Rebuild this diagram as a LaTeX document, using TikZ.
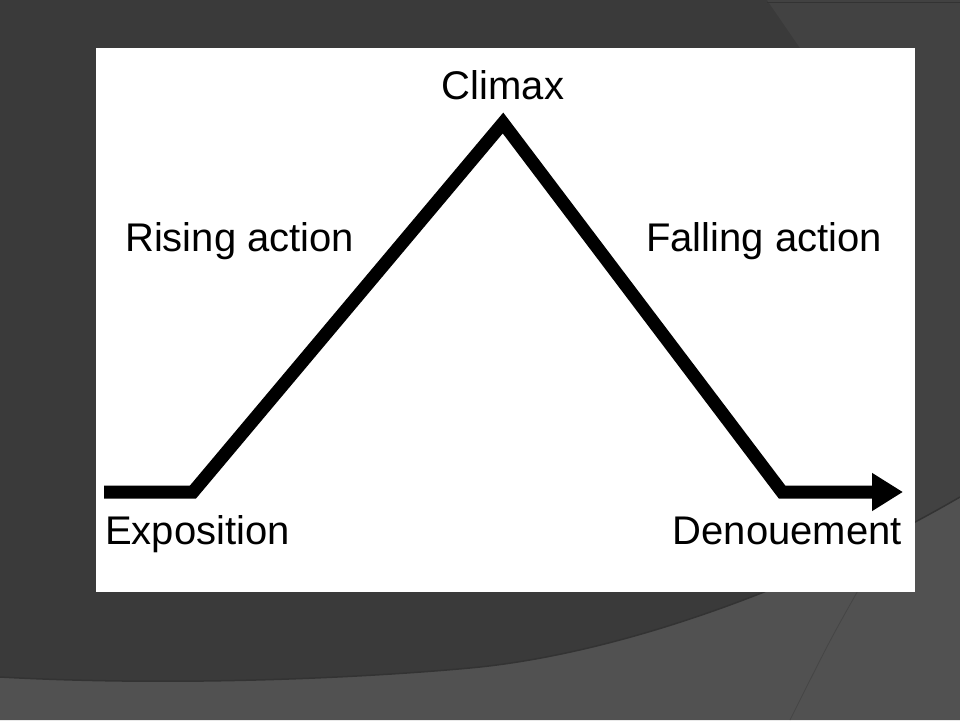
\documentclass[tikz,border=0pt]{standalone}
\usepackage{fontspec}
\setmainfont{Liberation Sans}
\usetikzlibrary{arrows.meta}
\definecolor{slidebg}{HTML}{3A3A3A}
\definecolor{slidetop}{HTML}{424242}
\definecolor{slidelow}{HTML}{515151}
\definecolor{slideedge}{HTML}{333333}
\begin{document}
\begin{tikzpicture}[x=1pt, y=-1pt,
  lbl/.style={anchor=base, inner sep=0pt, font=\fontsize{40}{48}\selectfont},
  plot/.style={line width=13pt, miter limit=10}]
  \useasboundingbox (0,0) rectangle (960,720);
  % Фон слайда
  \fill[slidebg] (0,0) rectangle (960,720);
  \fill[slidetop] (767,0) -- (800,48) -- (880,600) -- (960,600) -- (960,0) -- cycle;
  \draw[slideedge, line width=1pt] (767,2) -- (960,2);
  \fill[slidelow] (0,677) .. controls (200,688) and (400,675) .. (480,667)
    .. controls (620,652) and (800,590) .. (960,497) -- (960,720) -- (0,720) -- cycle;
  \draw[slideedge, line width=1.5pt] (0,677) .. controls (200,688) and (400,675) .. (480,667)
    .. controls (620,652) and (800,590) .. (960,497);
  \draw[slidelow!85!black, line width=0.8pt] (790,720) .. controls (830,640) .. (860,587);
  % Белое поле
  \fill[white] (96,48) rectangle (915,592);
  % Линия сюжета
  \coordinate (start) at (104,492);
  \coordinate (expo) at (193,492);
  \coordinate (peak) at (503,123);
  \coordinate (fall) at (782,492);
  \coordinate (end) at (903,492);
  \draw[plot, -{Triangle[length=31pt,width=36pt]}] (start) -- (expo) -- (peak) -- (fall) -- (end);
  % Подписи
  \node[lbl] (climax) at (503,99) {Climax};
  \node[lbl, anchor=base west] (rising) at (125,251) {Rising action};
  \node[lbl, anchor=base west] (falling) at (646,251) {Falling action};
  \node[lbl, anchor=base west] (expos) at (105,544) {Exposition};
  \node[lbl, anchor=base east] (denoue) at (902,544) {Denouement};
\end{tikzpicture}
\end{document}
